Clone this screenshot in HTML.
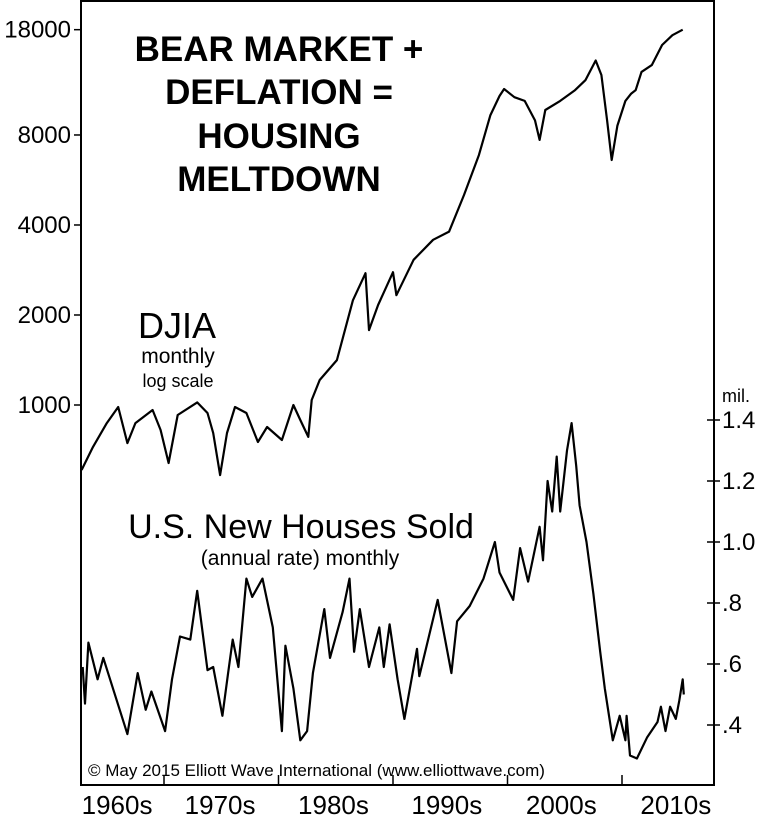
<!DOCTYPE html>
<html><head><meta charset="utf-8"><style>
html,body{margin:0;padding:0;background:#fff;}
svg{display:block;font-family:"Liberation Sans",Arial,sans-serif;}
</style></head><body>
<svg id="chart" width="759" height="816" viewBox="0 0 759 816">
  <rect x="81" y="1" width="633" height="784" fill="none" stroke="#000" stroke-width="2"/>
  <g font-weight="bold" font-size="35" text-anchor="middle">
    <text x="279" y="61">BEAR MARKET +</text>
    <text x="279" y="104">DEFLATION =</text>
    <text x="279" y="148">HOUSING</text>
    <text x="279" y="191">MELTDOWN</text>
  </g>
  <text x="177" y="338" font-size="36" text-anchor="middle">DJIA</text>
  <text x="178" y="363" font-size="21" text-anchor="middle">monthly</text>
  <text x="178" y="387" font-size="18" text-anchor="middle">log scale</text>
  <text x="301" y="538" font-size="34" text-anchor="middle">U.S. New Houses Sold</text>
  <text x="300" y="565" font-size="21" text-anchor="middle">(annual rate) monthly</text>
  <text x="88" y="776" font-size="17">© May 2015 Elliott Wave International (www.elliottwave.com)</text>
  <text x="722" y="402" font-size="18">mil.</text>
  <g id="axes"></g>
  <g id="series"></g>
</svg>
<script>
const djiaYears = [1962.8,1963.8,1965.0,1966.0,1966.8,1967.5,1969.0,1969.7,1970.4,1971.2,1972.9,1973.8,1974.3,1974.9,1975.5,1976.2,1977.2,1978.2,1979.0,1980.3,1981.3,1981.9,1982.6,1982.9,1983.6,1985.1,1986.5,1987.6,1987.9,1988.7,1990.0,1990.3,1991.8,1993.5,1994.9,1996.2,1997.5,1998.5,1999.3,1999.7,2000.6,2001.5,2002.4,2002.8,2003.3,2004.6,2005.9,2006.8,2007.7,2008.2,2008.7,2009.1,2009.6,2010.3,2010.8,2011.2,2011.7,2012.6,2013.5,2014.4,2015.3];
const djiaValues = [606,724,870,985,746,870,962,825,640,926,1020,940,806,583,806,985,940,752,844,764,1000,891,782,1039,1212,1413,2240,2760,1780,2160,2780,2330,3060,3570,3800,5040,6850,9300,10800,11400,10700,10400,8950,7700,9700,10400,11300,12200,14200,12700,8950,6600,8600,10400,11000,11300,13000,13700,16000,17250,18000];
const houseYears = [1962.9,1963.1,1963.4,1964.2,1964.7,1966.8,1967.7,1968.4,1968.9,1970.1,1970.7,1971.4,1972.3,1972.9,1973.8,1974.3,1975.1,1975.6,1976.0,1976.5,1977.2,1977.7,1978.6,1979.5,1980.3,1980.6,1981.3,1981.9,1982.5,1983.0,1984.0,1984.5,1985.6,1986.2,1986.6,1987.1,1987.9,1988.8,1989.2,1989.7,1990.4,1991.0,1992.1,1992.3,1993.9,1995.1,1995.6,1996.7,1997.9,1998.9,1999.3,2000.5,2001.1,2001.8,2002.8,2003.1,2003.5,2003.9,2004.3,2004.6,2005.2,2005.6,2006.0,2006.3,2006.9,2007.5,2008.1,2008.5,2009.2,2009.8,2010.3,2010.4,2010.7,2011.3,2012.2,2013.1,2013.4,2013.8,2014.2,2014.7,2015.0,2015.3,2015.4];
const houseValues = [0.59,0.47,0.67,0.55,0.62,0.37,0.57,0.45,0.51,0.38,0.55,0.69,0.68,0.84,0.58,0.59,0.43,0.57,0.68,0.59,0.88,0.82,0.88,0.72,0.38,0.66,0.52,0.35,0.38,0.57,0.78,0.62,0.77,0.88,0.64,0.78,0.59,0.72,0.59,0.73,0.55,0.42,0.65,0.56,0.81,0.57,0.74,0.79,0.88,1.00,0.90,0.81,0.98,0.87,1.05,0.94,1.20,1.10,1.28,1.10,1.30,1.39,1.25,1.12,1.00,0.83,0.64,0.52,0.35,0.43,0.35,0.43,0.30,0.29,0.36,0.41,0.46,0.38,0.46,0.42,0.48,0.55,0.50];
const leftTicks = [1000,2000,4000,8000,18000];
const leftTickLabels = ["1000","2000","4000","8000","18000"];
const rightTicks = [0.4,0.6,0.8,1.0,1.2,1.4];
const rightTickLabels = [".4",".6",".8","1.0","1.2","1.4"];
const decadeTicks = [1970,1980,1990,2000,2010];
const decadeLabels = ["1960s","1970s","1980s","1990s","2000s","2010s"];
const decadeLabelYears = [1965.9,1974.9,1984.8,1994.7,2004.7,2014.7];

const NS="http://www.w3.org/2000/svg";
function xScale(yr){return 164+(yr-1970)*11.45;}
function yLog(v){return 405-299*Math.log10(v/1000);}
function yHouse(v){return 420+(1.4-v)*305;}
function mk(tag,attrs,parent){const e=document.createElementNS(NS,tag);for(const k in attrs)e.setAttribute(k,attrs[k]);parent.appendChild(e);return e;}
const axes=document.getElementById('axes'), series=document.getElementById('series');

leftTicks.forEach((t,i)=>{
  const y=yLog(t);
  const l=mk('line',{x1:74,x2:81,y1:y,y2:y,stroke:'#000','stroke-width':1.5},axes);
  
  
  const tx=mk('text',{x:71,y:y+8,'font-size':24,'text-anchor':'end'},axes);
  tx.textContent=leftTickLabels[i];
  
  
});
rightTicks.forEach((t,i)=>{
  const y=yHouse(t);
  const l=mk('line',{x1:707,x2:720,y1:y,y2:y,stroke:'#000','stroke-width':1.5},axes);
  
  
  const tx=mk('text',{x:722,y:y+8,'font-size':24},axes);
  tx.textContent=rightTickLabels[i];
  
  
});
decadeTicks.forEach(t=>{
  const x=xScale(t);
  const l=mk('line',{x1:x,x2:x,y1:775,y2:785,stroke:'#000','stroke-width':1.5},axes);
  
  
});
decadeLabels.forEach((s,i)=>{
  const tx=mk('text',{x:xScale(decadeLabelYears[i]),y:814,'font-size':26,'text-anchor':'middle'},axes);
  tx.textContent=s;
  
  
});

const dj=mk('path',{d:djiaYears.map((yr,i)=>(i?'L':'M')+xScale(yr).toFixed(1)+','+yLog(djiaValues[i]).toFixed(1)).join(''),fill:'none',stroke:'#000','stroke-width':2.2,'stroke-linejoin':'round'},series);


const hs=mk('path',{d:houseYears.map((yr,i)=>(i?'L':'M')+xScale(yr).toFixed(1)+','+yHouse(houseValues[i]).toFixed(1)).join(''),fill:'none',stroke:'#000','stroke-width':2.2,'stroke-linejoin':'round'},series);


</script>
</body></html>
